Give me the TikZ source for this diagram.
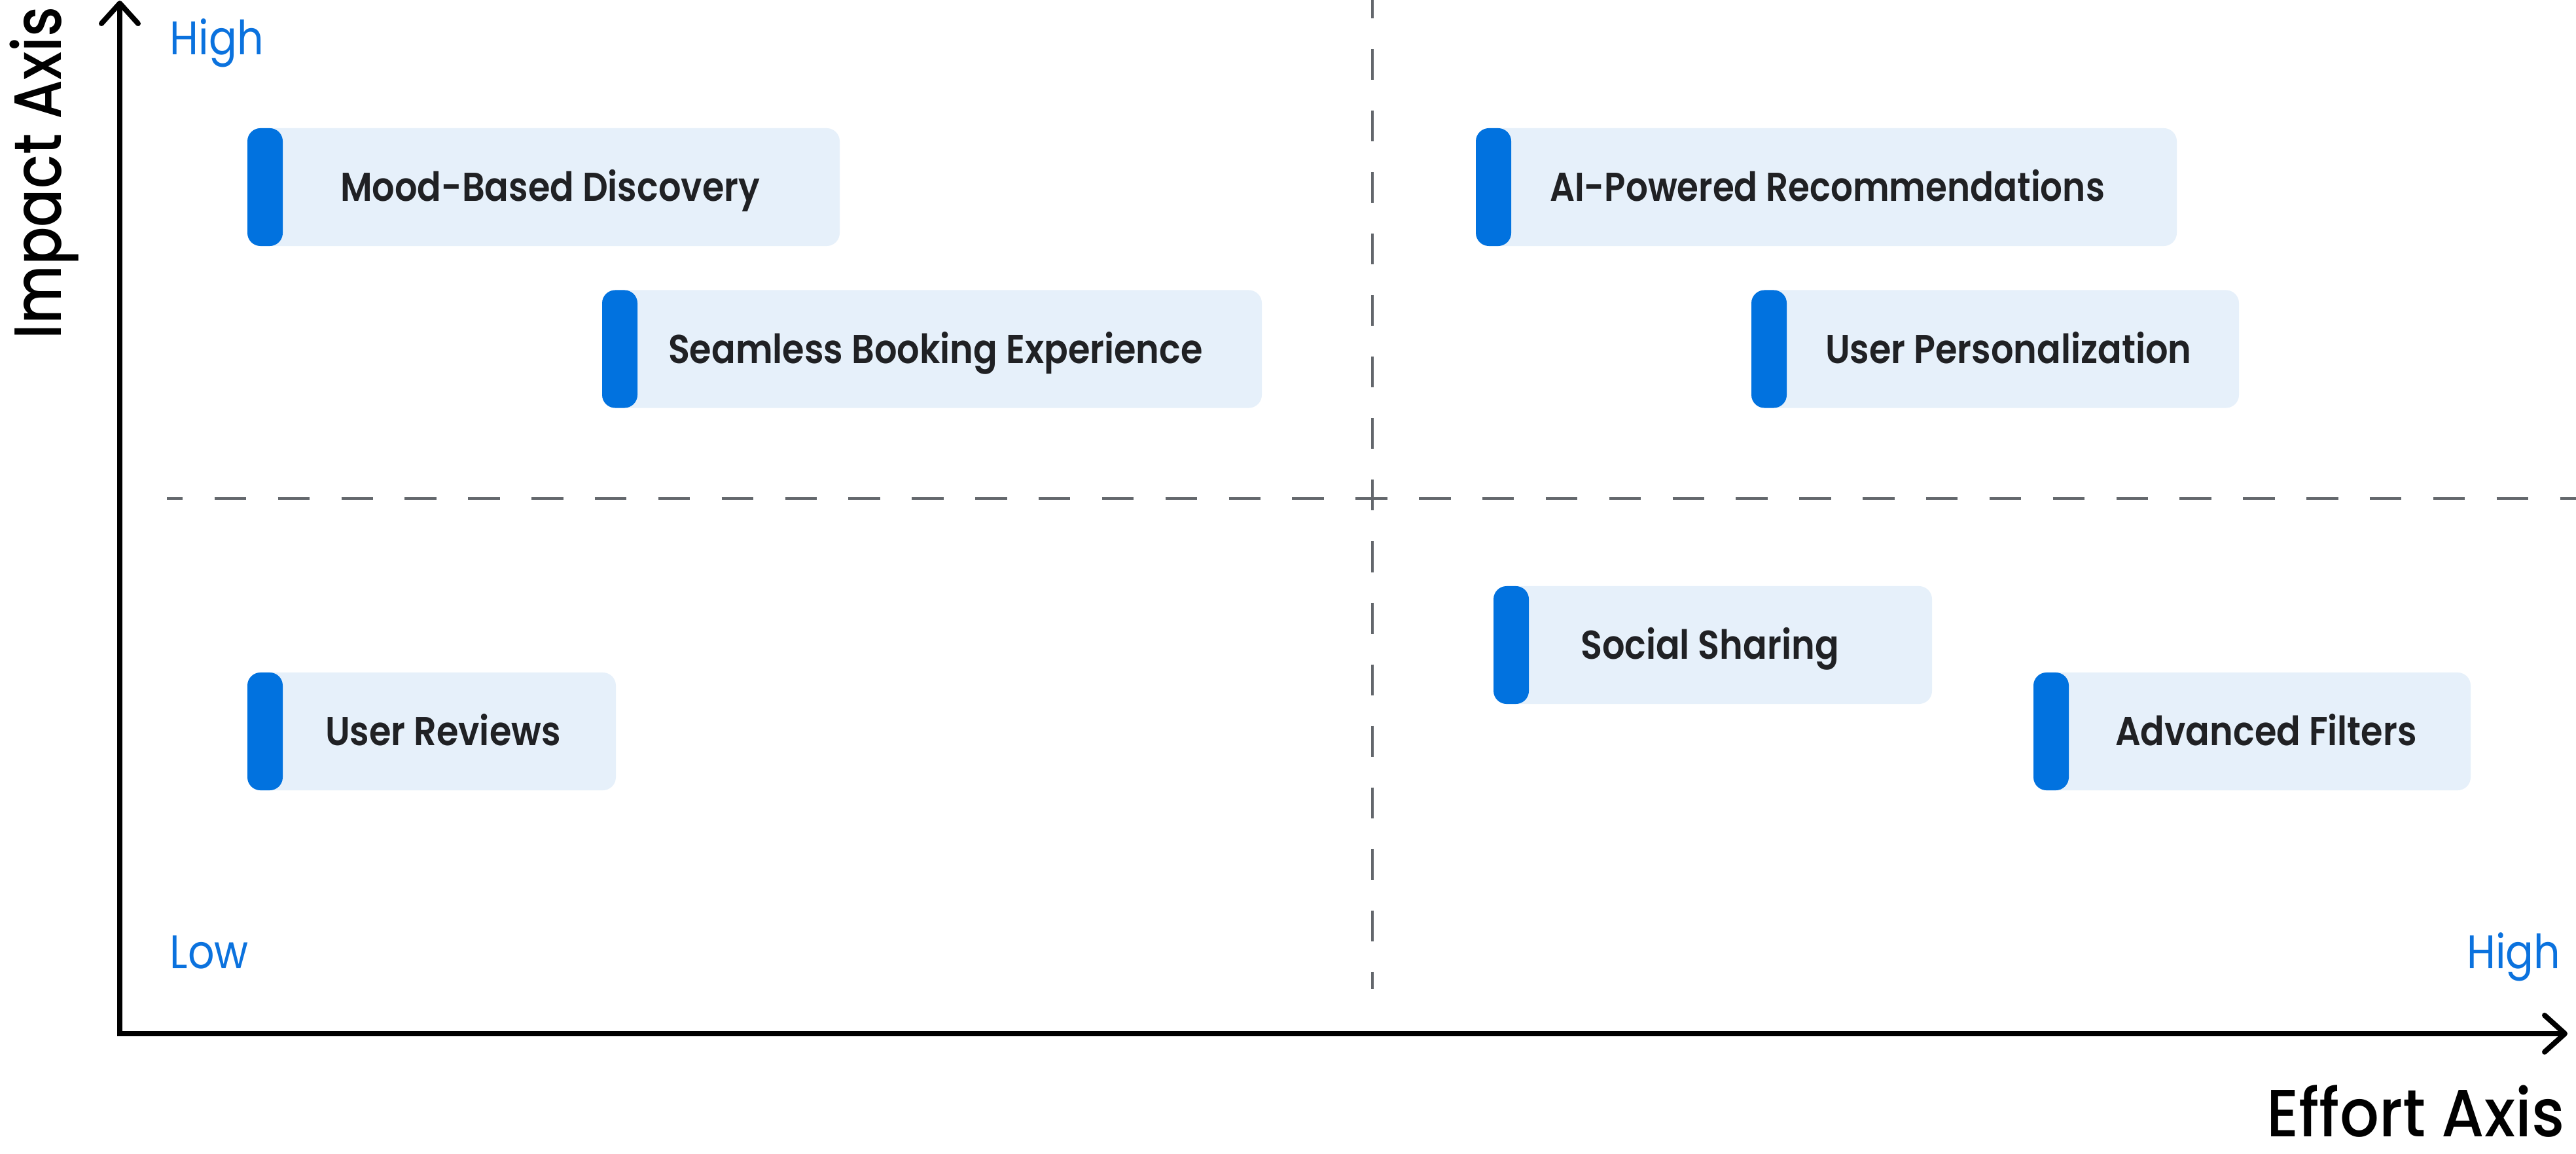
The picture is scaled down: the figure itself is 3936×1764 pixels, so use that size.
\documentclass[tikz,border=0pt]{standalone}
\usepackage{fontspec}
\usepackage{graphicx}
\usetikzlibrary{arrows.meta}
\newfontfamily\cardfont{Poppins SemiBold}[FakeStretch=0.88]
\newfontfamily\lblfont{Poppins}[FakeStretch=0.88]
\newfontfamily\axfont{Poppins Medium}[FakeStretch=0.88]
\definecolor{cardblue}{HTML}{0172DF}
\definecolor{cardbg}{HTML}{E6F0FA}
\definecolor{cardtext}{HTML}{202124}
\definecolor{lblblue}{HTML}{0B72DE}
\definecolor{dashgray}{HTML}{63676C}
\newdimen\pxu \pxu=0.01cm
\newcommand\cardlabel[3]{\makebox[#1\pxu][l]{\hspace{#2\pxu}#3}}
\newcommand\fitwidth[2]{\resizebox{#1\pxu}{\height}{#2}}
\tikzset{
  card/.style={shape=rectangle, fill=cardbg, rounded corners=0.2cm, inner sep=0pt,
    minimum height=1.8cm, text height=0.43cm, text depth=0pt,
    font=\cardfont\fontsize{17.5}{20}\selectfont, text=cardtext,
    path picture={\fill[cardblue] (path picture bounding box.north west) rectangle ([xshift=0.54cm]path picture bounding box.south west);}},
  lbl/.style={inner sep=0pt, text=lblblue, font=\lblfont\fontsize{20.5}{24}\selectfont},
  axlbl/.style={inner sep=0pt, text=black, font=\axfont\fontsize{29}{34}\selectfont},
  axisline/.style={line width=0.08cm, black, line join=miter,
    {Straight Barb[length=0.31cm, width=0.56cm, round]}-{Straight Barb[length=0.31cm, width=0.56cm, round]}},
  quadline/.style={line width=0.04cm, dashgray}
}
\begin{document}
\begin{tikzpicture}[x=0.01cm, y=-0.01cm]
\useasboundingbox[fill=white] (0,0) rectangle (3936,1764);
% quadrant dividers
\coordinate (vtop) at (2097,-19);
\coordinate (vbot) at (2097,1512);
\coordinate (hleft) at (255,762);
\coordinate (hright) at (3936,762);
\draw[quadline, dash pattern=on 0.47cm off 0.47cm] (vtop) -- (vbot);
\draw[quadline, dash pattern=on 0.484cm off 0.484cm, dash phase=0.24cm] (hleft) -- (hright);
% axes
\coordinate (O) at (183,1580);
\coordinate (xend) at (3923,1580);
\coordinate (yend) at (183,1);
\draw[axisline] (xend) -- (O) -- (yend);
% axis labels
\node[axlbl, anchor=base west, rotate=90] (impact) at (93,519) {\fitwidth{508}{Impact Axis}};
\node[axlbl, anchor=base east] (effort) at (3919,1737) {\fitwidth{455}{Effort Axis}};
\node[lbl, anchor=base west] (yhigh) at (259,84) {High};
\node[lbl, anchor=base west] (low) at (259,1480) {Low};
\node[lbl, anchor=base east] (xhigh) at (3913,1480) {High};
% cards
\node[card] (mood) at (830.5,286) {\cardlabel{905}{142}{Mood-Based Discovery}};
\node[card] (seamless) at (1424,533.5) {\cardlabel{1008}{101}{Seamless Booking Experience}};
\node[card] (ai) at (2790.5,286) {\cardlabel{1071}{113}{\fitwidth{848}{AI-Powered Recommendations}}};
\node[card] (pers) at (3048.5,533.5) {\cardlabel{745}{113}{User Personalization}};
\node[card] (social) at (2617,986) {\cardlabel{670}{133}{Social Sharing}};
\node[card] (filters) at (3441,1118) {\cardlabel{668}{125}{Advanced Filters}};
\node[card] (reviews) at (659.5,1118) {\cardlabel{563}{119}{User Reviews}};
\end{tikzpicture}
\end{document}
